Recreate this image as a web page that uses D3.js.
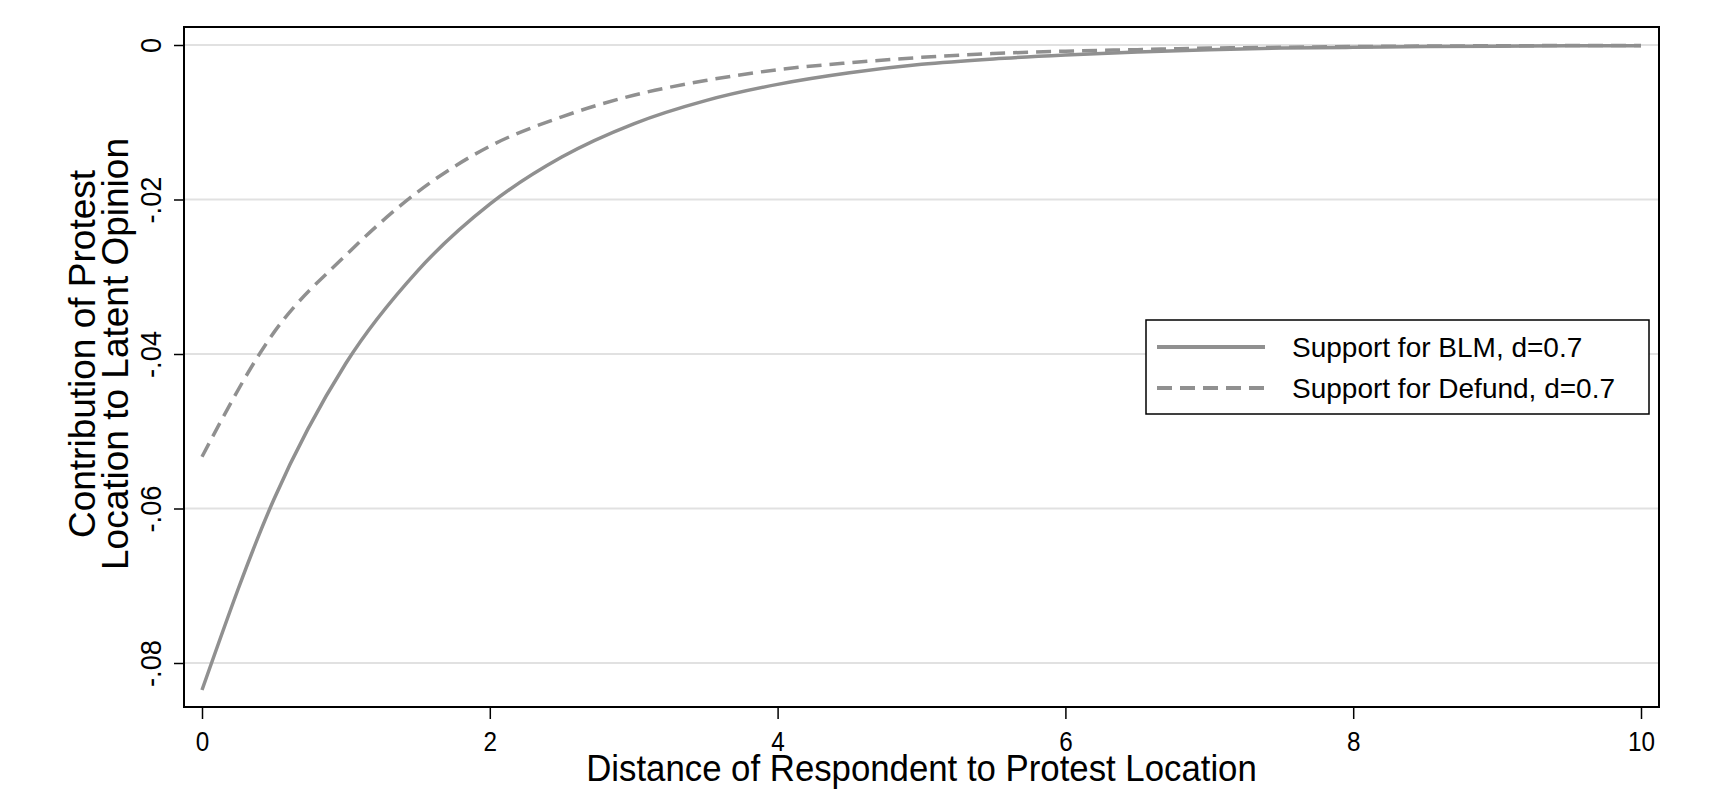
<!DOCTYPE html>
<html>
<head>
<meta charset="utf-8">
<script src="https://cdn.jsdelivr.net/npm/d3@7"></script>
<style>
body{margin:0;background:#fff;}
text{font-family:Arial,"Liberation Sans",sans-serif;fill:#000;}
</style>
</head>
<body>
<div id="sketch1"></div>
<script>
// values, every half unit of distance
var distance = [0,0.5,1,1.5,2,2.5,3,3.5,4,4.5,5,5.5,6,6.5,7,7.5,8,8.5,9,9.5,10];
var blm = [-0.0835,-0.0588,-0.0412,-0.0292,-0.0206,-0.0145,-0.0102,-0.0072,-0.0051,-0.0036,-0.0025,
           -0.0018,-0.0013,-0.0009,-0.0006,-0.0004,-0.0003,-0.0002,-0.00015,-0.0001,-0.0001];
var defund = [-0.0533,-0.0372,-0.0272,-0.0190,-0.0131,-0.0093,-0.0065,-0.0046,-0.0032,-0.0023,-0.0016,
              -0.0011,-0.0008,-0.0006,-0.0004,-0.0003,-0.0002,-0.00014,-0.0001,-0.00007,-0.00005];

var xTicks = [0,2,4,6,8,10];
var yTicks = [0,-0.02,-0.04,-0.06,-0.08];
var yTickLabels = ["0","-.02","-.04","-.06","-.08"];
var seriesNames = ["Support for BLM, d=0.7","Support for Defund, d=0.7"];
var xTitle = "Distance of Respondent to Protest Location";
var yTitle = ["Contribution of Protest","Location to Latent Opinion"];

var W = 1712, H = 794;
var frame = {l:184, t:27, r:1659, b:707};
var lineColor = "#909090";

var svg = d3.select('#sketch1')
    .append('svg')
    .attr('width', W)
    .attr('height', H);

var scaleX = d3.scaleLinear().domain([0,10]).range([202,1641]);
var scaleY = d3.scaleLinear().domain([-0.08,0]).range([663,45]);

// grid lines
svg.append("g")
    .selectAll("line")
    .data(yTicks)
    .enter()
    .append("line")
    .attr("x1", frame.l)
    .attr("x2", frame.r)
    .attr("y1", function(d){return scaleY(d)})
    .attr("y2", function(d){return scaleY(d)})
    .attr("stroke", "#e1e1e1")
    .attr("stroke-width", 2);

// y axis, labels turned like stata does
var axisY = svg.append("g")
    .attr("transform", "translate(" + frame.l + ",0)")
    .call(d3.axisLeft(scaleY).tickValues(yTicks).tickSize(10)
        .tickFormat(function(d,i){return yTickLabels[i]}));
axisY.select(".domain").remove();
axisY.selectAll(".tick line").attr("stroke", "#000").attr("stroke-width", 1.5);
axisY.selectAll(".tick text")
    .attr("transform", "rotate(-90) scale(0.91,1)")
    .attr("x", 0)
    .attr("y", -23)
    .attr("dy", null)
    .attr("text-anchor", "middle")
    .style("font-size", "30px");

// x axis
var axisX = svg.append("g")
    .attr("transform", "translate(0," + frame.b + ")")
    .call(d3.axisBottom(scaleX).tickValues(xTicks).tickSize(12));
axisX.select(".domain").remove();
axisX.selectAll(".tick line").attr("stroke", "#000").attr("stroke-width", 1.5);
axisX.selectAll(".tick text")
    .attr("transform", "scale(0.9,1)")
    .attr("y", 44)
    .attr("dy", null)
    .style("font-size", "27px");

// frame
svg.append("rect")
    .attr("x", frame.l)
    .attr("y", frame.t)
    .attr("width", frame.r - frame.l)
    .attr("height", frame.b - frame.t)
    .attr("fill", "none")
    .attr("stroke", "#000")
    .attr("stroke-width", 2);

// curves
var line = d3.line()
    .x(function(d){return scaleX(d[0])})
    .y(function(d){return scaleY(d[1])})
    .curve(d3.curveMonotoneX);

var series = [
    {name: seriesNames[0], values: d3.zip(distance, blm), dash: null},
    {name: seriesNames[1], values: d3.zip(distance, defund), dash: "15,8"}
];

svg.selectAll(".curve")
    .data(series)
    .enter()
    .append("path")
    .attr("class", "curve")
    .attr("d", function(d){return line(d.values)})
    .attr("fill", "none")
    .attr("stroke", lineColor)
    .attr("stroke-width", 3.5)
    .attr("stroke-dasharray", function(d){return d.dash});

// axis titles
svg.append("text")
    .attr("transform", "translate(" + scaleX(5) + ",781) scale(0.94,1)")
    .attr("text-anchor", "middle")
    .style("font-size", "37px")
    .text(xTitle);

svg.selectAll(".ytitle")
    .data(yTitle)
    .enter()
    .append("text")
    .attr("class", "ytitle")
    .attr("transform", function(d,i){
        return "translate(" + (95 + i*33) + "," + scaleY(-0.04) + ") rotate(-90)";
    })
    .attr("text-anchor", "middle")
    .style("font-size", "37px")
    .text(function(d){return d});

// legend
var legend = svg.append("g");
legend.append("rect")
    .attr("x", 1146)
    .attr("y", 320)
    .attr("width", 503)
    .attr("height", 94)
    .attr("fill", "#fff")
    .attr("stroke", "#000")
    .attr("stroke-width", 1.5);

var items = legend.selectAll(".item")
    .data(series)
    .enter()
    .append("g")
    .attr("class", "item")
    .attr("transform", function(d,i){return "translate(0," + (347 + i*41) + ")"});

items.append("line")
    .attr("x1", 1157)
    .attr("x2", 1265)
    .attr("stroke", lineColor)
    .attr("stroke-width", 4)
    .attr("stroke-dasharray", function(d){return d.dash});

items.append("text")
    .attr("x", 1292)
    .attr("y", 10)
    .style("font-size", "28px")
    .text(function(d){return d.name});
</script>
</body>
</html>
